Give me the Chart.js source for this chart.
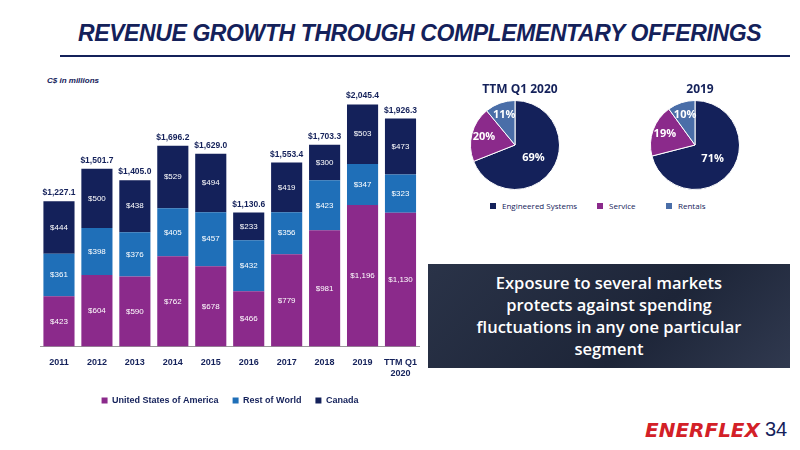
<!DOCTYPE html>
<html><head><meta charset="utf-8">
<script src="https://cdn.jsdelivr.net/npm/chart.js@4/dist/chart.umd.min.js"></script>
<style>
body{margin:0;width:800px;height:450px;background:#fff;font-family:"Liberation Sans",Arial,sans-serif;position:relative;overflow:hidden}
#title{position:absolute;left:78px;top:20px;font-size:23px;font-weight:bold;font-style:italic;color:#14215a;white-space:nowrap;letter-spacing:-0.4px}
#rule{position:absolute;left:60px;top:55px;width:730px;height:2px;background:#14215a}
#unit{position:absolute;left:47px;top:76px;font-size:8px;font-style:italic;font-weight:bold;color:#14215a}
#bar{position:absolute;left:40px;top:80px;width:380px;height:335px}
#p1{position:absolute;left:440px;top:82px;width:150px;height:110px}
#p2{position:absolute;left:620px;top:82px;width:150px;height:110px}
.leg{position:absolute;top:200px;font-size:8px;color:#14215a;font-family:"Open Sans",sans-serif}
.leg i{display:inline-block;width:6px;height:6px;margin-right:6px}
#box{position:absolute;left:428px;top:264px;width:362px;height:104px;background:linear-gradient(135deg,#2a3348,#1d2538 60%,#30394f);color:#fff;font-family:"Open Sans",sans-serif;font-size:16.5px;font-weight:600;text-align:center;line-height:22px;display:flex;align-items:center;justify-content:center}
#logo{position:absolute;left:645px;top:418px;font-size:20px;font-weight:900;font-style:italic;color:#d32027;font-family:"DejaVu Sans",sans-serif}
#pg{position:absolute;left:765px;top:418px;font-size:20px;color:#14215a}
</style></head><body>
<div id="title">REVENUE GROWTH THROUGH COMPLEMENTARY OFFERINGS</div>
<div id="rule"></div>
<div id="unit">C$ in millions</div>
<div id="bar"><canvas id="c1"></canvas></div>
<div id="p1"><canvas id="c2"></canvas></div>
<div id="p2"><canvas id="c3"></canvas></div>
<div class="leg" style="left:490px"><i style="background:#14215a"></i>Engineered Systems</div>
<div class="leg" style="left:597px"><i style="background:#8b2a8b"></i>Service</div>
<div class="leg" style="left:666px"><i style="background:#4a6ea8"></i>Rentals</div>
<div id="box"><div>Exposure to several markets<br>protects against spending<br>fluctuations in any one particular<br>segment</div></div>
<div id="logo">ENERFLEX</div>
<div id="pg">34</div>
<script>
const years = ['2011','2012','2013','2014','2015','2016','2017','2018','2019',['TTM Q1','2020']];
const usa = [423,604,590,762,678,466,779,981,1196,1130];
const row = [361,398,376,405,457,432,356,423,347,323];
const canada = [444,500,438,529,494,233,419,300,503,473];
const totals = ['$1,227.1','$1,501.7','$1,405.0','$1,696.2','$1,629.0','$1,130.6','$1,553.4','$1,703.3','$2,045.4','$1,926.3'];
const pieLabels = ['Engineered Systems','Service','Rentals'];
const ttm = [69,20,11];
const y2019 = [71,19,10];
const pieColors = ['#14215a','#8b2a8b','#4a6ea8'];

const inside = {
  id:'inside',
  afterDatasetsDraw(chart){
    const ctx = chart.ctx;
    ctx.save();
    ctx.fillStyle='#fff'; ctx.font='8px "Liberation Sans"'; ctx.textAlign='center'; ctx.textBaseline='middle';
    chart.data.datasets.forEach((ds,i)=>{
      chart.getDatasetMeta(i).data.forEach((b,j)=>{
        ctx.fillText('$'+ds.data[j].toLocaleString('en-US'), b.x, (b.y+b.base)/2);
      });
    });
    const top = chart.getDatasetMeta(2).data;
    ctx.fillStyle='#14215a'; ctx.font='bold 8.5px "Liberation Sans"'; ctx.textBaseline='bottom';
    top.forEach((b,j)=>ctx.fillText(totals[j], b.x, b.y-4));
    ctx.restore();
  }
};
new Chart(document.getElementById('c1'),{
  type:'bar',
  data:{labels:years,datasets:[
    {label:'United States of America',data:usa,backgroundColor:'#8b2a8b'},
    {label:'Rest of World',data:row,backgroundColor:'#1f6fb8'},
    {label:'Canada',data:canada,backgroundColor:'#14215a'}]},
  options:{responsive:true,maintainAspectRatio:false,animation:false,
    layout:{padding:{top:18}},
    datasets:{bar:{categoryPercentage:0.82,barPercentage:1}},
    scales:{
      x:{stacked:true,grid:{display:false},border:{color:'#999'},ticks:{maxRotation:0,minRotation:0,autoSkip:false,color:'#14215a',font:{size:9,weight:'bold'}}},
      y:{stacked:true,display:false,min:0,max:2100}},
    plugins:{legend:{position:'bottom',labels:{boxWidth:6,boxHeight:6,color:'#14215a',font:{size:9,weight:'bold'},padding:14}},tooltip:{enabled:false}}},
  plugins:[inside]
});

function pieLbl(title){return {
  id:'pl',
  afterDatasetsDraw(chart){
    const ctx=chart.ctx; ctx.save();
    ctx.textAlign='center'; ctx.textBaseline='middle';
    chart.getDatasetMeta(0).data.forEach((a,i)=>{
      const ang=(a.startAngle+a.endAngle)/2, r=a.outerRadius*(i==0?0.5:0.72);
      ctx.fillStyle='#fff'; ctx.font='bold 11px "Open Sans"';
      ctx.fillText(chart.data.datasets[0].data[i]+'%', a.x+Math.cos(ang)*r, a.y+Math.sin(ang)*r);
    });
    ctx.fillStyle='#14215a'; ctx.font='bold 12px "Open Sans"';
    ctx.fillText(title, chart.width/2+5, 8);
    ctx.restore();
  }};}
function pie(id,data,title){
  new Chart(document.getElementById(id),{type:'pie',
    data:{labels:pieLabels,datasets:[{data:data,backgroundColor:pieColors,borderColor:'#fff',borderWidth:1}]},
    options:{responsive:true,maintainAspectRatio:false,animation:false,rotation:0,
      layout:{padding:{top:18,bottom:2}},
      plugins:{legend:{display:false},tooltip:{enabled:false}}},
    plugins:[pieLbl(title)]});
}
pie('c2',ttm,'TTM Q1 2020');
pie('c3',y2019,'2019');
</script>
</body></html>
